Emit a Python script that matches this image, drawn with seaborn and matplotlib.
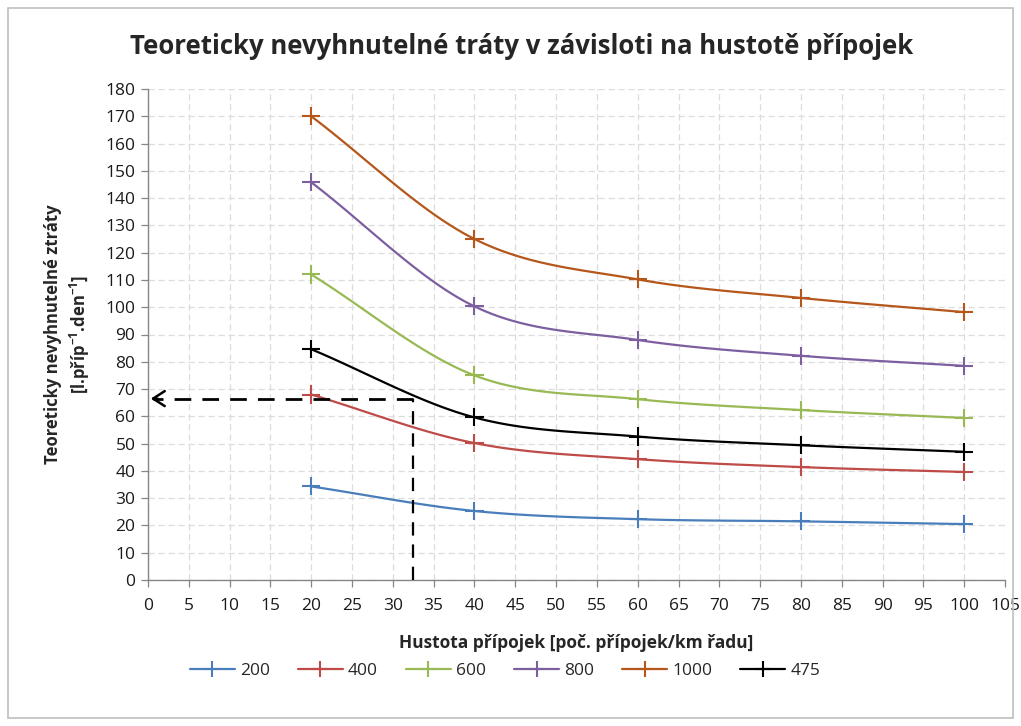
import numpy as np
import pandas as pd
import matplotlib
matplotlib.use("Agg")
import matplotlib.pyplot as plt
import seaborn as sns
from matplotlib.patches import Rectangle

# ---- data ----
density = [20, 40, 60, 80, 100]
s200 = [34.3, 25.3, 22.3, 21.5, 20.5]
s400 = [68.0, 50.2, 44.3, 41.4, 39.6]
s600 = [112.0, 75.0, 66.3, 62.3, 59.4]
s800 = [145.8, 100.3, 88.0, 82.2, 78.5]
s1000 = [170.0, 125.0, 110.2, 103.4, 98.2]
s475 = [84.6, 59.6, 52.6, 49.4, 47.0]
series_names = ["200", "400", "600", "800", "1000", "475"]
series_vals = [s200, s400, s600, s800, s1000, s475]
colors = ["#4A7EBB", "#BE4B48", "#98B954", "#7D5FA0", "#B5571A", "#000000"]
guide_x = 32.5
guide_y = 66.5

title = "Teoreticky nevyhnutelné tráty v závisloti na hustotě přípojek"
xlabel = "Hustota přípojek [poč. přípojek/km řadu]"
ylabel = "Teoreticky nevyhnutelné ztráty\n[l.příp$^{\\mathbf{-1}}$.den$^{\\mathbf{-1}}$]"

rows = []
for n, v in zip(series_names, series_vals):
    for x, y in zip(density, v):
        rows.append({"x": x, "y": y, "series": n})
df = pd.DataFrame(rows)

sns.set_theme(style="white")
plt.rcParams["font.family"] = ["Open Sans", "DejaVu Sans"]
plt.rcParams["mathtext.fontset"] = "custom"
plt.rcParams["mathtext.bf"] = "Open Sans:bold"
plt.rcParams["mathtext.rm"] = "Open Sans"

fig = plt.figure(figsize=(10.21, 7.26), dpi=100)
ax = fig.add_axes([148 / 1021, 1 - 580 / 726, (1005 - 148) / 1021, (580 - 89) / 726])

# outer chart border
fig.patches.append(Rectangle((8 / 1021, 8 / 726), 1005 / 1021, 710 / 726,
                             transform=fig.transFigure, fill=False,
                             edgecolor="#BFBFBF", lw=1.2))


def smooth(xs, ys, n=30):
    # Catmull-Rom style smoothing for the rendered curve (like Excel smoothed lines)
    xs = np.asarray(xs, float)
    ys = np.asarray(ys, float)
    px = np.concatenate([[2 * xs[0] - xs[1]], xs, [2 * xs[-1] - xs[-2]]])
    py = np.concatenate([[2 * ys[0] - ys[1]], ys, [2 * ys[-1] - ys[-2]]])
    ox, oy = [], []
    for i in range(1, len(px) - 2):
        t = np.linspace(0, 1, n)
        for arr, out in ((px, ox), (py, oy)):
            p0, p1, p2, p3 = arr[i - 1], arr[i], arr[i + 1], arr[i + 2]
            out.extend(0.5 * ((2 * p1) + (-p0 + p2) * t +
                              (2 * p0 - 5 * p1 + 4 * p2 - p3) * t ** 2 +
                              (-p0 + 3 * p1 - 3 * p2 + p3) * t ** 3))
    return np.array(ox), np.array(oy)


for n, c in zip(series_names, colors):
    sub = df[df.series == n]
    sx, sy = smooth(sub.x.values, sub.y.values)
    ax.plot(sx, sy, color=c, lw=1.6, zorder=3)
sns.scatterplot(data=df, x="x", y="y", hue="series", hue_order=series_names,
                palette=colors, marker="+", s=170, linewidth=1.5, ax=ax,
                legend=False, zorder=4)

# guide lines
ax.plot([guide_x, guide_x], [0, guide_y], color="black", lw=1.6, ls=(0, (6, 4)), zorder=5)
ax.plot([guide_x, 0.6], [guide_y, guide_y], color="black", lw=2.0, ls=(0, (6, 4)), zorder=5)
ax.annotate("", xy=(0.0, guide_y), xytext=(1.5, guide_y),
            arrowprops=dict(arrowstyle="->,head_length=0.7,head_width=0.45",
                            color="black", lw=1.8), zorder=6)

ax.set_xlim(0, 105)
ax.set_ylim(0, 180)
ax.set_xticks(np.arange(0, 106, 5))
ax.set_yticks(np.arange(0, 181, 10))
ax.grid(True, color="#DCDCDC", ls=(0, (5, 3)), lw=0.9)
ax.set_axisbelow(True)
for s in ["top", "right"]:
    ax.spines[s].set_visible(False)
for s in ["left", "bottom"]:
    ax.spines[s].set_color("#868686")
    ax.spines[s].set_linewidth(1.0)
ax.tick_params(axis="both", which="both", direction="out", length=5, width=0.9,
               color="#868686", labelsize=12.5, labelcolor="#1a1a1a", left=True, bottom=True)
ax.tick_params(axis="x", pad=8)
ax.tick_params(axis="y", pad=4)

ax.set_xlabel(xlabel, fontsize=12.5, fontweight="bold", labelpad=14)
ax.set_ylabel(ylabel, fontsize=12, fontweight="bold", labelpad=10, linespacing=1.3)

fig.text(522 / 1021, 1 - 47 / 726, title, ha="center", va="center",
         fontsize=18.5, fontweight="bold")

handles = [plt.Line2D([], [], color=c, lw=1.6, marker="+", markersize=12, mew=1.5)
           for c in colors]
fig.legend(handles, series_names, loc="center", bbox_to_anchor=(505 / 1021, 1 - 671 / 726),
           ncol=6, frameon=False, fontsize=12.5, handlelength=2.6, columnspacing=1.6,
           handletextpad=0.3)

fig.savefig("out.png", dpi=100)
